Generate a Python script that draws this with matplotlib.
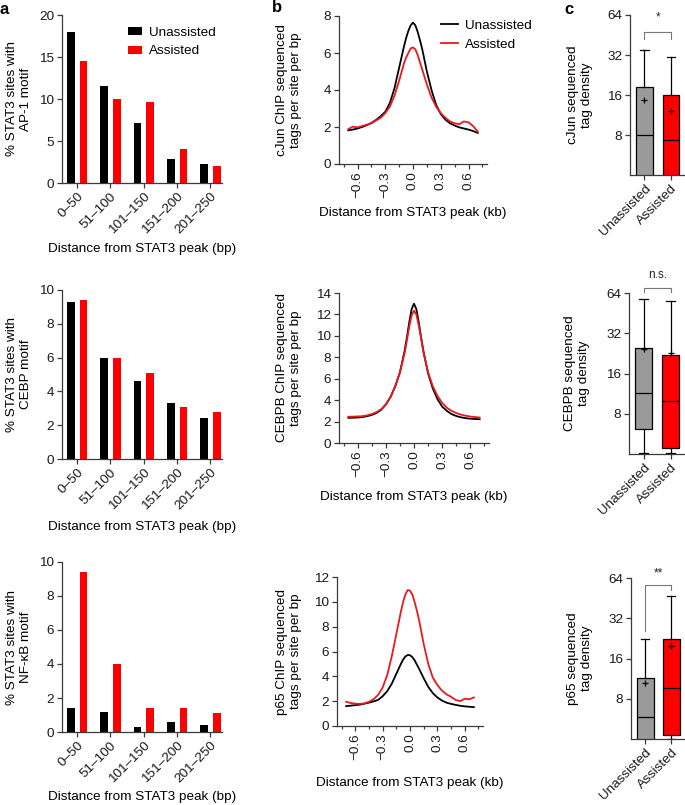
import numpy as np
import matplotlib
matplotlib.use("Agg")
import matplotlib.pyplot as plt

plt.rcParams['font.family'] = ['Liberation Sans', 'DejaVu Sans']
plt.rcParams['font.size'] = 9.7
plt.rcParams['axes.linewidth'] = 0.9
plt.rcParams['axes.edgecolor'] = '#3a3a3a'
plt.rcParams['xtick.color'] = '#3a3a3a'
plt.rcParams['ytick.color'] = '#3a3a3a'
plt.rcParams['xtick.labelcolor'] = '#1a1a1a'
plt.rcParams['ytick.labelcolor'] = '#1a1a1a'

# ---------------- data ----------------
bins = ["0\u201350", "51\u2013100", "101\u2013150", "151\u2013200", "201\u2013250"]
ap1_unassisted = [18.0, 11.5, 7.2, 2.9, 2.3]
ap1_assisted = [14.5, 10.0, 9.7, 4.0, 2.0]
cebp_unassisted = [9.3, 6.0, 4.6, 3.3, 2.4]
cebp_assisted = [9.4, 6.0, 5.1, 3.1, 2.8]
nfkb_unassisted = [1.4, 1.2, 0.3, 0.6, 0.4]
nfkb_assisted = [9.4, 4.0, 1.4, 1.4, 1.1]

prof_x = [-0.7, -0.65, -0.6, -0.55, -0.5, -0.45, -0.4, -0.35, -0.3, -0.25, -0.2, -0.15,
          -0.1, -0.075, -0.05, -0.025, 0.0, 0.025, 0.05, 0.075, 0.1, 0.15, 0.2, 0.25,
          0.3, 0.35, 0.4, 0.45, 0.5, 0.55, 0.6, 0.65, 0.7]
cjun_unassisted = [1.82, 1.86, 1.92, 2.0, 2.1, 2.22, 2.38, 2.58, 2.82, 3.3, 4.1, 5.2, 6.3, 6.8, 7.2,
                   7.5, 7.64, 7.5, 7.15, 6.7, 6.2, 5.0, 4.0, 3.2, 2.7, 2.4, 2.2, 2.08, 1.98, 1.92,
                   1.86, 1.78, 1.68]
cjun_assisted = [1.88, 2.02, 1.98, 2.05, 2.12, 2.2, 2.35, 2.5, 2.75, 3.1, 3.7, 4.5, 5.4, 5.75, 6.0,
                 6.25, 6.3, 6.2, 5.9, 5.5, 5.1, 4.3, 3.6, 3.1, 2.75, 2.5, 2.3, 2.2, 2.15, 2.3,
                 2.25, 2.05, 1.75]
cebpb_unassisted = [2.35, 2.36, 2.38, 2.42, 2.5, 2.62, 2.8, 3.1, 3.6, 4.3, 5.3, 6.6, 8.6, 9.9, 11.3,
                    12.5, 13.0, 12.5, 11.3, 9.9, 8.6, 6.5, 5.1, 4.1, 3.4, 3.0, 2.7, 2.52, 2.4, 2.32,
                    2.27, 2.24, 2.22]
cebpb_assisted = [2.45, 2.46, 2.48, 2.5, 2.58, 2.7, 2.88, 3.15, 3.6, 4.3, 5.3, 6.6, 8.4, 9.6, 10.9,
                  11.9, 12.35, 12.0, 11.0, 9.8, 8.5, 6.6, 5.3, 4.4, 3.75, 3.3, 3.0, 2.8, 2.65, 2.55,
                  2.47, 2.42, 2.38]
p65_unassisted = [1.6, 1.64, 1.68, 1.72, 1.8, 1.88, 1.98, 2.1, 2.4, 2.8, 3.4, 4.2, 5.0, 5.35, 5.6,
                  5.72, 5.7, 5.55, 5.3, 4.95, 4.6, 3.85, 3.15, 2.65, 2.3, 2.05, 1.88, 1.78, 1.7,
                  1.63, 1.58, 1.55, 1.52]
p65_assisted = [1.95, 1.85, 1.8, 1.78, 1.82, 1.95, 2.15, 2.5, 3.1, 4.1, 5.6, 7.4, 9.2, 10.0, 10.6,
                10.95, 10.9, 10.6, 10.0, 9.3, 8.5, 6.6, 5.0, 3.9, 3.3, 2.85, 2.55, 2.35, 2.1, 2.0,
                2.2, 2.15, 2.3]

groups = ["Unassisted", "Assisted"]
# box statistics: whislo, q1, med, q3, whishi, mean
cjun_box_un = [2.0, 3.0, 8.0, 18.4, 35.0, 14.7]
cjun_box_as = [2.0, 3.0, 7.3, 16.0, 31.0, 12.1]
cebpb_box_un = [4.05, 6.1, 11.5, 25.0, 58.0, 24.2]
cebpb_box_as = [4.05, 4.4, 10.0, 22.0, 56.0, 22.9]
p65_box_un = [2.0, 3.0, 5.8, 11.4, 22.4, 10.5]
p65_box_as = [4.0, 4.3, 9.6, 22.3, 46.6, 20.0]

# ---------------- layout ----------------
W, H = 685, 805
fig = plt.figure(figsize=(W / 100, H / 100), dpi=100)


def rect(l, t, r, b):
    return [l / W, 1 - b / H, (r - l) / W, (b - t) / H]


RED = '#ff0000'
LRED = '#e8191f'
GRAY = '#9a9a9a'


def style(ax):
    ax.spines['top'].set_visible(False)
    ax.spines['right'].set_visible(False)
    ax.tick_params(direction='out', length=3.5, width=0.9, pad=2)


# ---- panel a ----
a_rects = [(62, 15, 222, 183), (62, 290, 222, 459), (62, 562, 222, 732)]
a_data = [(ap1_unassisted, ap1_assisted, 20, 5, "% STAT3 sites with\nAP-1 motif"),
          (cebp_unassisted, cebp_assisted, 10, 2, "% STAT3 sites with\nCEBP motif"),
          (nfkb_unassisted, nfkb_assisted, 10, 2, "% STAT3 sites with\nNF-\u03baB motif")]
a_xlab_y = [249, 527, 797]
xpos = np.arange(len(bins))
for i, (rc, (un, asd, ymax, step, ylab)) in enumerate(zip(a_rects, a_data)):
    ax = fig.add_axes(rect(*rc))
    style(ax)
    ax.bar(xpos - 0.19, un, width=0.23, color='black', label='Unassisted')
    ax.bar(xpos + 0.19, asd, width=0.23, color=RED, label='Assisted')
    ax.set_xlim(-0.45, 4.35)
    ax.set_ylim(0, ymax)
    ax.set_yticks(np.arange(0, ymax + 0.1, step))
    ax.set_xticks(xpos)
    ax.set_xticklabels(bins, rotation=45, ha='right', rotation_mode='anchor')
    fig.text(19 / W, 1 - ((rc[1] + rc[3]) / 2) / H, ylab, rotation=90, ha='center', va='center',
             multialignment='center')
    fig.text(142 / W, 1 - a_xlab_y[i] / H, "Distance from STAT3 peak (bp)", ha='center', va='center')
    if i == 0:
        ax.legend(loc='upper left', bbox_to_anchor=(0.41, 0.93), frameon=False,
                  handlelength=1.1, handleheight=0.55, handletextpad=0.5, labelspacing=0.5,
                  borderaxespad=0, borderpad=0)

# ---- panel b ----
b_rects = [(339, 16, 487, 164), (339, 293, 489, 443), (337, 577, 483, 726)]
b_data = [(cjun_unassisted, cjun_assisted, 8, 2, "cJun ChIP sequenced\ntags per site per bp"),
          (cebpb_unassisted, cebpb_assisted, 14, 2, "CEBPB ChIP sequenced\ntags per site per bp"),
          (p65_unassisted, p65_assisted, 12, 2, "p65 ChIP sequenced\ntags per site per bp")]
b_xlab_y = [213, 497, 783]
for i, (rc, (un, asd, ymax, step, ylab)) in enumerate(zip(b_rects, b_data)):
    ax = fig.add_axes(rect(*rc))
    style(ax)
    ax.plot(prof_x, un, color='black', lw=1.3, label='Unassisted')
    ax.plot(prof_x, asd, color=LRED, lw=1.3, label='Assisted')
    ax.set_xlim(-0.8, 0.8)
    ax.set_ylim(0, ymax)
    ax.set_yticks(np.arange(0, ymax + 0.1, step))
    ax.set_xticks([-0.6, -0.3, 0.0, 0.3, 0.6])
    ax.set_xticklabels(["\u22120.6", "\u22120.3", "0.0", "0.3", "0.6"], rotation=90)
    ax.set_xticks([-0.75, -0.45, -0.15, 0.15, 0.45, 0.75], minor=True)
    ax.tick_params(axis='x', which='minor', length=2.5, width=0.9)
    fig.text(289 / W, 1 - ((rc[1] + rc[3]) / 2) / H, ylab, rotation=90, ha='center', va='center',
             multialignment='center')
    fig.text(((rc[0] + rc[2]) / 2) / W, 1 - b_xlab_y[i] / H, "Distance from STAT3 peak (kb)",
             ha='center', va='center')
    if i == 0:
        ax.legend(loc='upper left', bbox_to_anchor=(0.69, 0.975), frameon=False,
                  handlelength=1.25, handletextpad=0.5, labelspacing=0.45, borderaxespad=0,
                  borderpad=0)

# ---- panel c ----
c_rects = [(630, 15, 686, 175), (629, 293, 686, 454), (631, 578, 686, 739)]
c_data = [(cjun_box_un, cjun_box_as, "cJun sequenced\ntag density", "*", (47.6, 42.0, 42.0), 55),
          (cebpb_box_un, cebpb_box_as, "CEBPB sequenced\ntag density", "n.s.", (70.0, 65.0, 65.0), 79),
          (p65_box_un, p65_box_as, "p65 sequenced\ntag density", "**", (57.0, 25.5, 52.0), 62)]
c_ylab_x = [580, 577, 580]
for i, (rc, (bu, ba, ylab, sig, brk, sigy)) in enumerate(zip(c_rects, c_data)):
    ax = fig.add_axes(rect(*rc))
    style(ax)
    stats = []
    for b, lab in zip([bu, ba], groups):
        stats.append(dict(whislo=b[0], q1=b[1], med=b[2], q3=b[3], whishi=b[4], mean=b[5],
                          label=lab))
    art = ax.bxp(stats, positions=[1, 2], widths=0.64, showmeans=True, showfliers=False,
                 patch_artist=True,
                 boxprops=dict(edgecolor='black', linewidth=0.9),
                 medianprops=dict(color='black', linewidth=0.9),
                 whiskerprops=dict(color='black', linewidth=0.9),
                 capprops=dict(color='black', linewidth=0.9),
                 meanprops=dict(marker='+', markeredgecolor='black', markersize=4,
                                markeredgewidth=0.9))
    for patch, col in zip(art['boxes'], [GRAY, RED]):
        patch.set_facecolor(col)
    ax.set_yscale('log', base=2)
    ax.set_ylim(4, 64)
    ax.set_yticks([8, 16, 32, 64])
    ax.set_yticklabels(["8", "16", "32", "64"])
    ax.yaxis.set_minor_locator(matplotlib.ticker.NullLocator())
    ax.set_xlim(0.453, 2.566)
    ax.set_xticks([1, 2])
    ax.set_xticklabels(groups, rotation=45, ha='right', rotation_mode='anchor')
    top, l1, l2 = brk
    ax.plot([1, 1, 2, 2], [l1, top, top, l2], color='#777777', lw=0.8, clip_on=False)
    ax.text(1.5, sigy, sig, ha='center', va='bottom', fontsize=8.5, color='#222222')
    fig.text(c_ylab_x[i] / W, 1 - ((rc[1] + rc[3]) / 2) / H, ylab, rotation=90, ha='center',
             va='center', multialignment='center')

# panel letters
fig.text(0 / W, 1 - 9 / H, "a", fontsize=12, fontweight='bold', ha='left', va='center')
fig.text(277 / W, 1 - 8 / H, "b", fontsize=12, fontweight='bold', ha='center', va='center')
fig.text(569 / W, 1 - 9 / H, "c", fontsize=12, fontweight='bold', ha='center', va='center')

fig.savefig("out.png", dpi=100)
